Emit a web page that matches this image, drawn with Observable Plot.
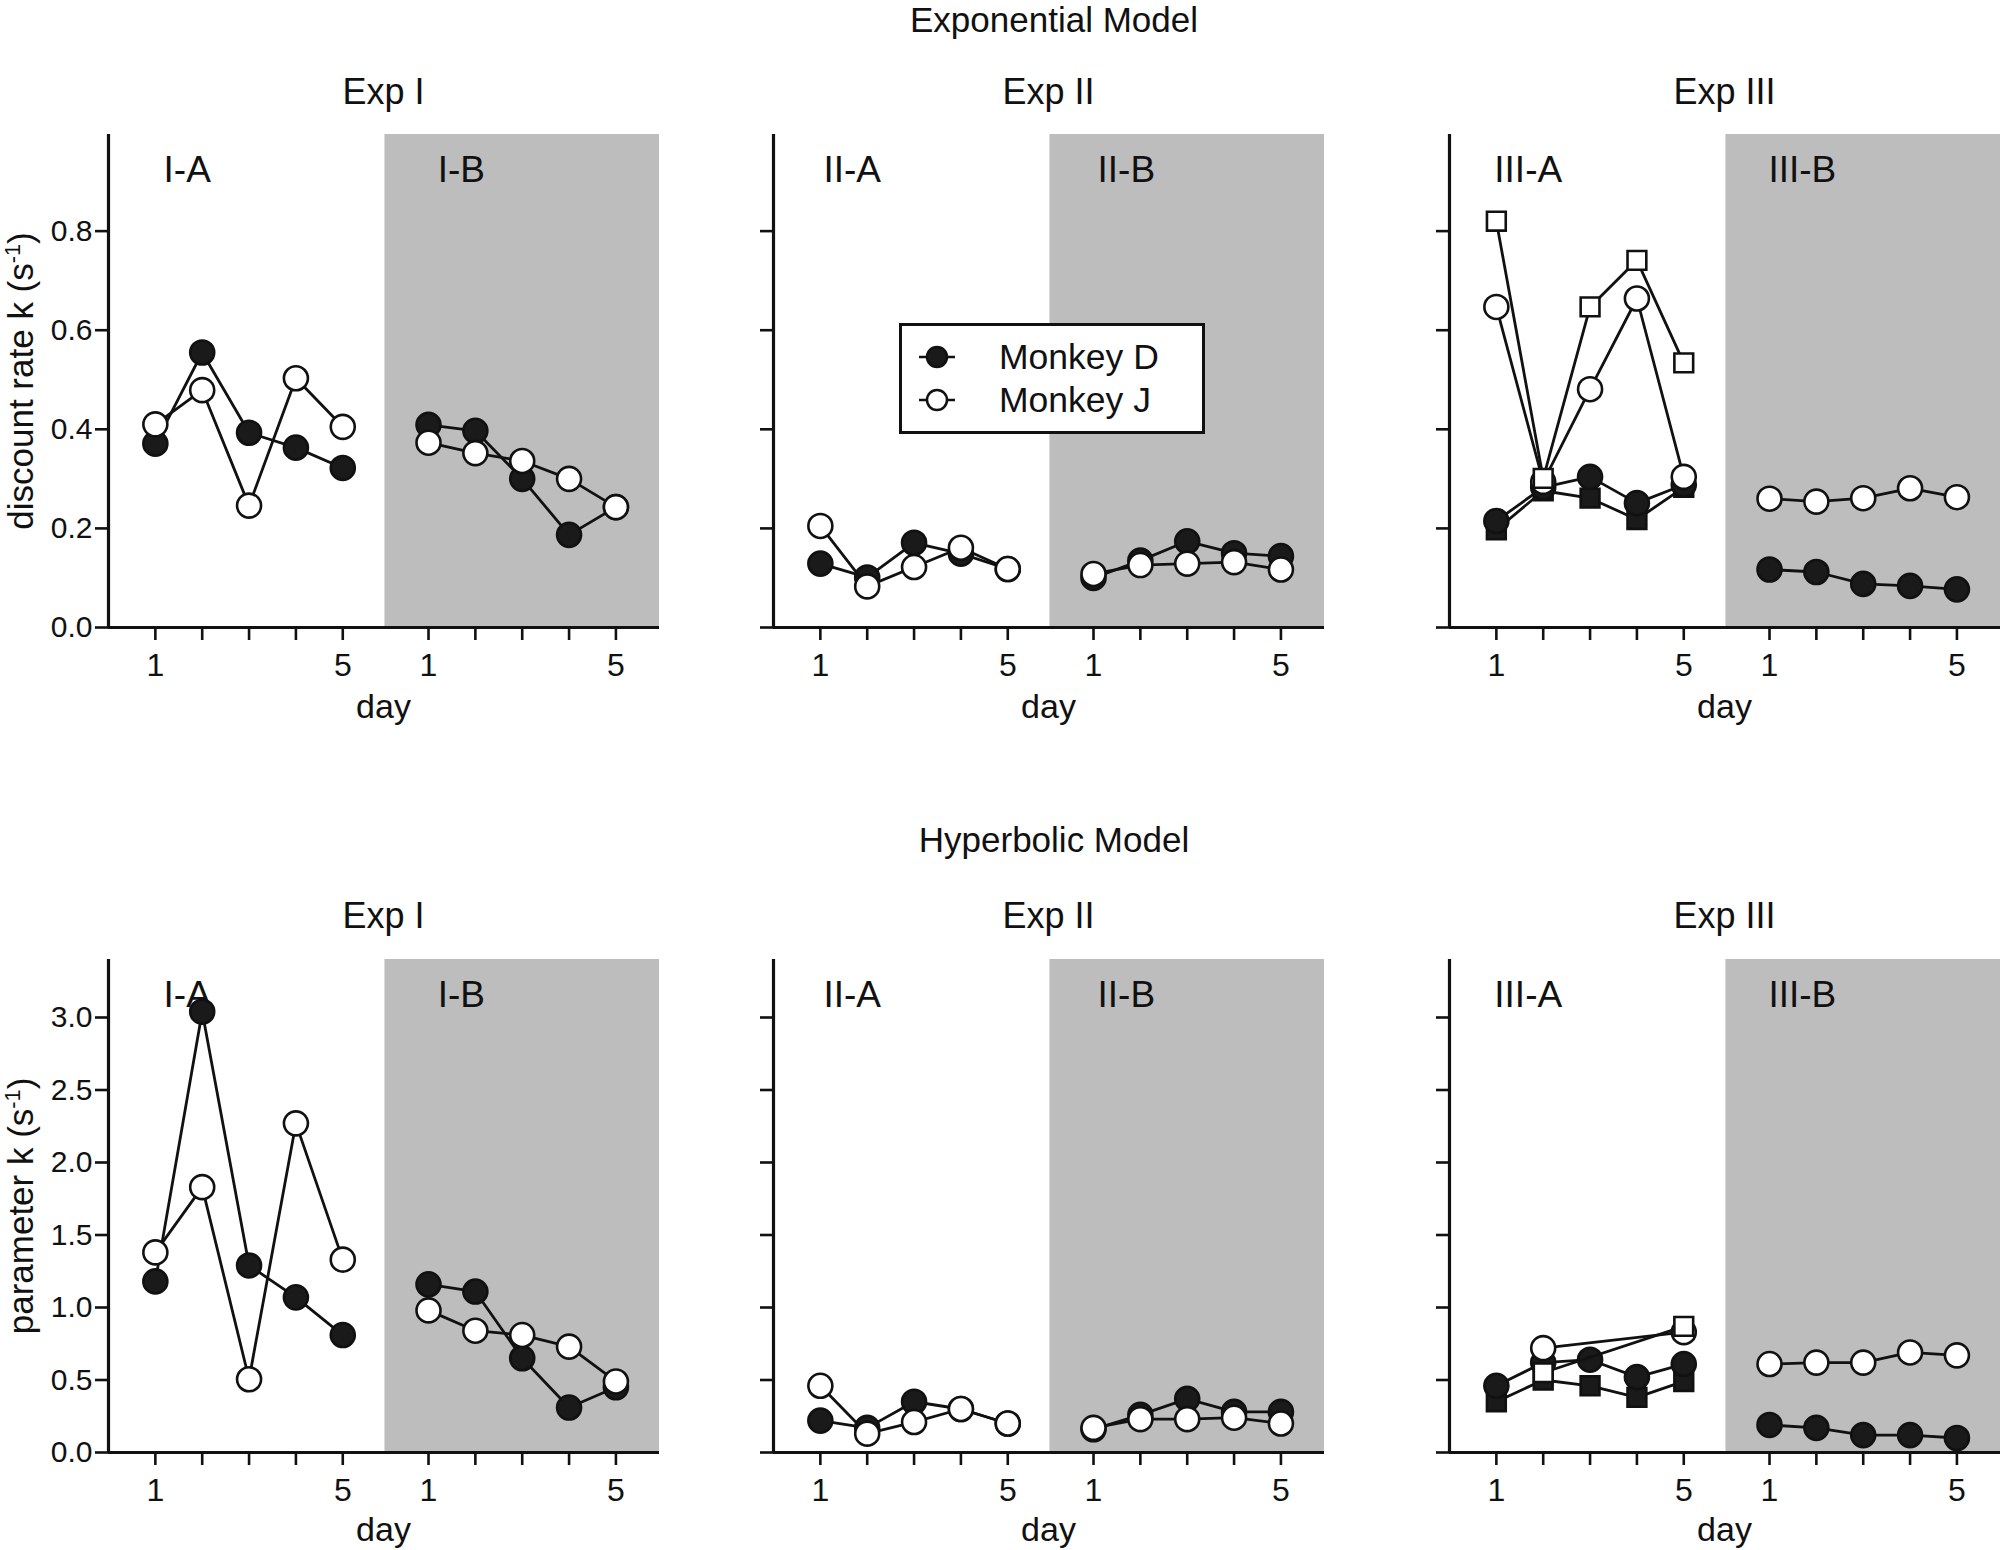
<!DOCTYPE html>
<html><head><meta charset="utf-8">
<script src="https://cdn.jsdelivr.net/npm/d3@7"></script>
<script src="https://cdn.jsdelivr.net/npm/@observablehq/plot@0.6"></script>
<style>
html,body{margin:0;padding:0;background:#fff;overflow:hidden}
#root{position:relative;width:2000px;height:1550px;font-family:"Liberation Sans",Arial,sans-serif;color:#111}
.t{position:absolute;white-space:nowrap;line-height:1.2;transform:translate(-50%,-50%)}
.p{position:absolute}
.sup{font-size:0.62em;position:relative;top:-0.62em}
</style></head><body><div id="root"></div>
<script>
// ---------- data ----------
const days = [1, 2, 3, 4, 5];
const expTitles = ["Exp I", "Exp II", "Exp III"];
const subLabels = [["I-A", "I-B"], ["II-A", "II-B"], ["III-A", "III-B"]];
const modelTitles = ["Exponential Model", "Hyperbolic Model"];
const yLabels = ["discount rate k (s", "parameter k (s"];
const legendNames = ["Monkey D", "Monkey J"];
const xTickText = ["1", "", "", "", "5"];

const expTicks = [0, 0.2, 0.4, 0.6, 0.8];
const hypTicks = [0, 0.5, 1.0, 1.5, 2.0, 2.5, 3.0];

// Exponential model
const expI_A_D  = [0.371, 0.555, 0.393, 0.363, 0.322];
const expI_A_J  = [0.410, 0.479, 0.246, 0.503, 0.405];
const expI_B_D  = [0.409, 0.397, 0.300, 0.187, 0.243];
const expI_B_J  = [0.373, 0.352, 0.336, 0.300, 0.243];
const expII_A_D = [0.129, 0.101, 0.171, 0.149, 0.118];
const expII_A_J = [0.205, 0.083, 0.122, 0.161, 0.118];
const expII_B_D = [0.100, 0.135, 0.174, 0.150, 0.144];
const expII_B_J = [0.108, 0.126, 0.129, 0.132, 0.117];
const expIII_A_Dsq = [0.197, 0.276, 0.261, 0.218, 0.283];
const expIII_A_D   = [0.215, 0.283, 0.304, 0.251, 0.288];
const expIII_A_J   = [0.647, 0.294, 0.481, 0.664, 0.304];
const expIII_A_Jsq = [0.820, 0.301, 0.647, 0.741, 0.534];
const expIII_B_D = [0.117, 0.112, 0.088, 0.084, 0.077];
const expIII_B_J = [0.260, 0.254, 0.261, 0.281, 0.263];

// Hyperbolic model
const hypI_A_D  = [1.18, 3.04, 1.29, 1.07, 0.81];
const hypI_A_J  = [1.38, 1.83, 0.505, 2.27, 1.33];
const hypI_B_D  = [1.16, 1.11, 0.65, 0.31, 0.45];
const hypI_B_J  = [0.98, 0.84, 0.81, 0.73, 0.49];
const hypII_A_D = [0.22, 0.17, 0.35, 0.30, 0.20];
const hypII_A_J = [0.46, 0.13, 0.21, 0.30, 0.20];
const hypII_B_D = [0.16, 0.26, 0.37, 0.28, 0.28];
const hypII_B_J = [0.17, 0.23, 0.23, 0.24, 0.20];
const hypIII_A_Dsq = [0.35, 0.50, 0.46, 0.38, 0.49];
const hypIII_A_D   = [0.46, 0.62, 0.64, 0.52, 0.61];
const hypIII_A_J   = [null, 0.72, null, null, 0.83];
const hypIII_A_Jsq = [null, 0.55, null, null, 0.87];
const hypIII_B_D = [0.19, 0.17, 0.12, 0.12, 0.10];
const hypIII_B_J = [0.61, 0.62, 0.62, 0.69, 0.67];

// ---------- layout ----------
const B_OFFSET = 5.83, GRAY_START = 5.9, X_MAX = 11.76;
const SUB_A_X = 1.68, SUB_B_X = 7.53;
const FRAME_W = 551, FRAME_H = 493;
const ML = 90, MT = 20, MB = 60;
const frameLefts = [108, 773, 1449];
const frameTops = [134, 959];
const FONT = '"Liberation Sans", Arial, Helvetica, sans-serif';
const INK = "#111";
const FILL_DARK = "#1a1a1a";

const styles = {
  D:   {symbol: "circle", fill: FILL_DARK, r: 12},
  J:   {symbol: "circle", fill: "#fff", r: 12},
  Dsq: {symbol: "square", fill: FILL_DARK, r: 10.6},
  Jsq: {symbol: "square", fill: "#fff", r: 10.6}
};

const root = document.getElementById("root");
function addText(html, cx, cy, size, rotate) {
  const d = document.createElement("div");
  d.className = "t";
  d.style.left = cx + "px";
  d.style.top = cy + "px";
  d.style.fontSize = size + "px";
  if (rotate) d.style.transform = "translate(-50%,-50%) rotate(-90deg)";
  d.innerHTML = html;
  root.appendChild(d);
}

const xTicks = [...days, ...days.map(d => d + B_OFFSET)];
const xLabelMap = new Map(xTicks.map((v, i) => [v, xTickText[i % 5]]));

function panel({left, top, yMax, yTicks, showY, series, sub}) {
  const marks = [
    Plot.rect([{x1: GRAY_START, x2: X_MAX, y1: 0, y2: yMax}], {x1: "x1", x2: "x2", y1: "y1", y2: "y2", fill: "#bdbdbd"}),
    Plot.text([sub[0]], {x: SUB_A_X, frameAnchor: "top", dy: 21, text: d => d, fontSize: 37, fill: INK}),
    Plot.text([sub[1]], {x: SUB_B_X, frameAnchor: "top", dy: 21, text: d => d, fontSize: 37, fill: INK})
  ];
  for (const s of series) {
    const off = s.block === "B" ? B_OFFSET : 0;
    const pts = s.values.map((v, i) => ({x: days[i] + off, y: v})).filter(p => p.y != null);
    const st = styles[s.name];
    marks.push(Plot.line(pts, {x: "x", y: "y", stroke: INK, strokeWidth: 2.8}));
    marks.push(Plot.dot(pts, {x: "x", y: "y", r: st.r, symbol: st.symbol, fill: st.fill, stroke: INK, strokeWidth: 2.6}));
  }
  marks.push(
    Plot.axisY({ticks: yTicks, tickFormat: showY ? d3.format(".1f") : () => "",
      tickSize: 13, tickPadding: 3, stroke: INK, strokeWidth: 2.6, fill: INK, label: null, fontSize: 30}),
    Plot.axisX({ticks: xTicks, tickFormat: v => xLabelMap.get(v), tickSize: 13, tickPadding: 13,
      stroke: INK, strokeWidth: 2.6, fill: INK, label: null, fontSize: 32}),
    Plot.ruleX([0], {stroke: INK, strokeWidth: 3.2}),
    Plot.ruleY([0], {stroke: INK, strokeWidth: 3.2})
  );
  const svg = Plot.plot({
    width: ML + FRAME_W, height: MT + FRAME_H + MB,
    marginLeft: ML, marginRight: 0, marginTop: MT, marginBottom: MB,
    x: {domain: [0, X_MAX]},
    y: {domain: [0, yMax]},
    style: {fontSize: "31px", fontFamily: FONT, background: "transparent", overflow: "visible", color: INK},
    marks
  });
  svg.classList.add("p");
  svg.style.left = (left - ML) + "px";
  svg.style.top = (top - MT) + "px";
  root.appendChild(svg);
}

const rows = [
  {yMax: 0.995, yTicks: expTicks, panels: [
    [{block: "A", name: "D", values: expI_A_D}, {block: "A", name: "J", values: expI_A_J},
     {block: "B", name: "D", values: expI_B_D}, {block: "B", name: "J", values: expI_B_J}],
    [{block: "A", name: "D", values: expII_A_D}, {block: "A", name: "J", values: expII_A_J},
     {block: "B", name: "D", values: expII_B_D}, {block: "B", name: "J", values: expII_B_J}],
    [{block: "A", name: "Dsq", values: expIII_A_Dsq}, {block: "A", name: "D", values: expIII_A_D},
     {block: "A", name: "J", values: expIII_A_J}, {block: "A", name: "Jsq", values: expIII_A_Jsq},
     {block: "B", name: "D", values: expIII_B_D}, {block: "B", name: "J", values: expIII_B_J}]
  ]},
  {yMax: 3.4, yTicks: hypTicks, panels: [
    [{block: "A", name: "D", values: hypI_A_D}, {block: "A", name: "J", values: hypI_A_J},
     {block: "B", name: "D", values: hypI_B_D}, {block: "B", name: "J", values: hypI_B_J}],
    [{block: "A", name: "D", values: hypII_A_D}, {block: "A", name: "J", values: hypII_A_J},
     {block: "B", name: "D", values: hypII_B_D}, {block: "B", name: "J", values: hypII_B_J}],
    [{block: "A", name: "Dsq", values: hypIII_A_Dsq}, {block: "A", name: "D", values: hypIII_A_D},
     {block: "A", name: "J", values: hypIII_A_J}, {block: "A", name: "Jsq", values: hypIII_A_Jsq},
     {block: "B", name: "D", values: hypIII_B_D}, {block: "B", name: "J", values: hypIII_B_J}]
  ]}
];

const titleY = [20, 840];
const expTitleY = [92, 916];
const dayY = [706, 1529];

rows.forEach((row, r) => {
  const top = frameTops[r];
  addText(modelTitles[r], 1054, titleY[r], 35);
  row.panels.forEach((series, p) => {
    panel({left: frameLefts[p], top, yMax: row.yMax, yTicks: row.yTicks, showY: p === 0, series, sub: subLabels[p]});
    const cx = frameLefts[p] + FRAME_W / 2;
    addText(expTitles[p], cx, expTitleY[r], 36);
    addText("day", cx, dayY[r], 34);
  });
  addText(yLabels[r] + '<span class="sup">-1</span>)', 21, top + FRAME_H / 2, 35, true);
});

// legend
const lg = document.createElement("div");
lg.className = "p";
lg.style.cssText = "left:899px;top:323px;width:306px;height:111px;border:3px solid #111;background:#fff;box-sizing:border-box;";
const legendSvg = d3.create("svg").attr("width", 300).attr("height", 105).style("position", "absolute").style("left", "0").style("top", "0");
legendNames.forEach((name, i) => {
  const y = 31 + i * 43;
  legendSvg.append("line").attr("x1", 17).attr("x2", 53).attr("y1", y).attr("y2", y).attr("stroke", INK).attr("stroke-width", 2.5);
  legendSvg.append("circle").attr("cx", 35).attr("cy", y).attr("r", 10).attr("fill", i === 0 ? FILL_DARK : "#fff").attr("stroke", INK).attr("stroke-width", 2.5);
  legendSvg.append("text").attr("x", 97).attr("y", y).attr("dy", "0.35em").attr("font-size", 35.5).attr("font-family", FONT).attr("fill", INK).text(name);
});
lg.appendChild(legendSvg.node());
root.appendChild(lg);
</script>
</body></html>
